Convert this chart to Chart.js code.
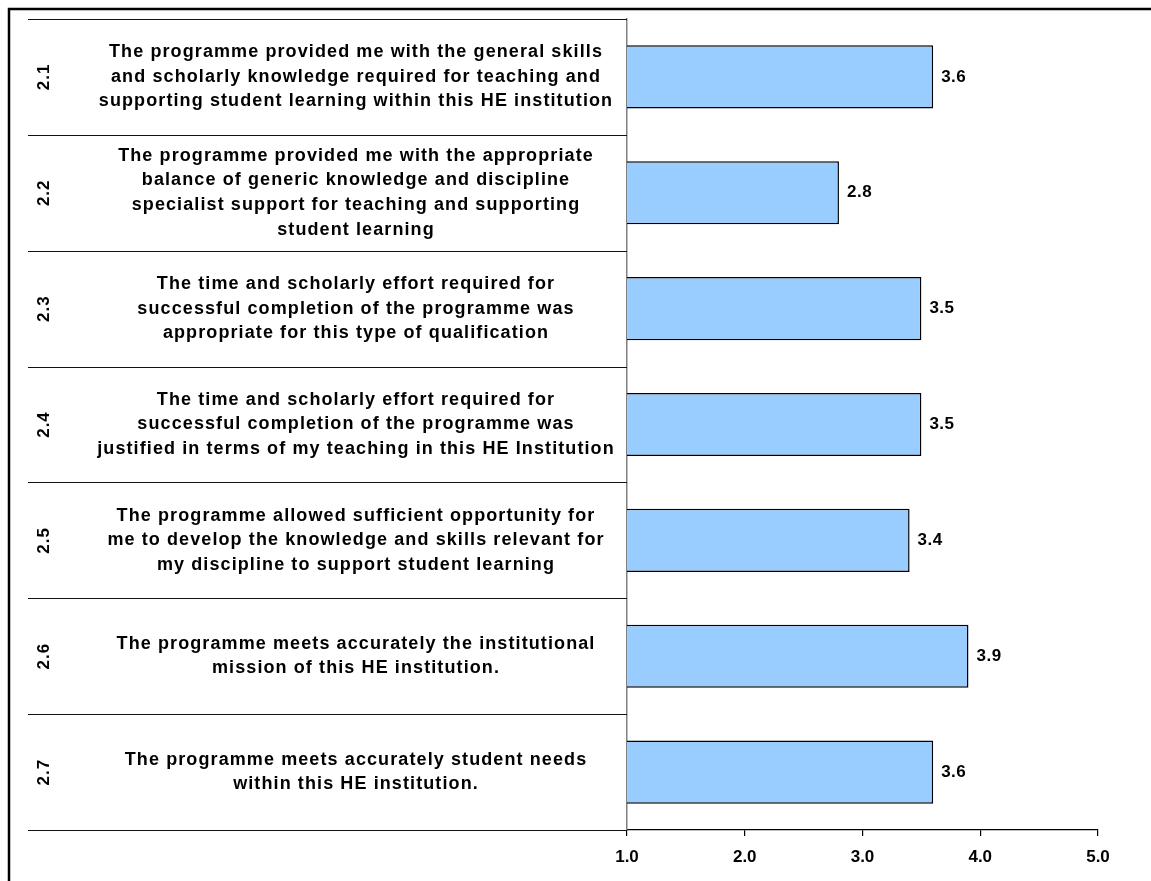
<!DOCTYPE html>
<html>
<head>
<meta charset="utf-8">
<script src="https://cdn.jsdelivr.net/npm/chart.js@4/dist/chart.umd.min.js"></script>
<style>
  html, body { margin: 0; padding: 0; background: #fff; }
  #wrap { width: 1151px; height: 881px; position: relative; }
</style>
</head>
<body>
<div id="wrap"><canvas id="scores"></canvas></div>
<script>
const codes = ["2.1", "2.2", "2.3", "2.4", "2.5", "2.6", "2.7"];
const statements = [
  ["The programme provided me with the general skills",
   "and scholarly knowledge required for teaching and",
   "supporting student learning within this HE institution"],
  ["The programme provided me with the appropriate",
   "balance of generic knowledge and discipline",
   "specialist support for teaching and supporting",
   "student learning"],
  ["The time and scholarly effort required for",
   "successful completion of the programme was",
   "appropriate for this type of qualification"],
  ["The time and scholarly effort required for",
   "successful completion of the programme was",
   "justified in terms of my teaching in this HE Institution"],
  ["The programme allowed sufficient opportunity for",
   "me to develop the knowledge and skills relevant for",
   "my discipline to support student learning"],
  ["The programme meets accurately the institutional",
   "mission of this HE institution."],
  ["The programme meets accurately student needs",
   "within this HE institution."]
];
const scores = [3.6, 2.8, 3.5, 3.5, 3.4, 3.9, 3.6];
const tickLabels = ["1.0", "2.0", "3.0", "4.0", "5.0"];

const FAMILY = "'Liberation Sans', Arial, sans-serif";

// table lines, item numbers, statements and value labels
const tablePlugin = {
  id: "table",
  afterDraw(chart) {
    const ctx = chart.ctx;
    const area = chart.chartArea;
    const y = chart.scales.y;
    const step = y.getPixelForValue(1) - y.getPixelForValue(0);
    const tableLeft = 28;
    ctx.save();

    // outer frame (left and top edges)
    ctx.strokeStyle = "#000";
    ctx.lineWidth = 2.5;
    ctx.beginPath();
    ctx.moveTo(9, 1000);
    ctx.lineTo(9, 9);
    ctx.lineTo(1151, 9);
    ctx.stroke();

    // row separators
    ctx.lineWidth = 1.2;
    ctx.strokeStyle = "#111";
    for (let i = 0; i <= codes.length; i++) {
      const yy = Math.round(y.getPixelForValue(i) - step / 2) + 0.5;
      ctx.beginPath();
      ctx.moveTo(tableLeft, yy);
      ctx.lineTo(area.left, yy);
      ctx.stroke();
    }

    ctx.fillStyle = "#000";
    codes.forEach((code, i) => {
      const cy = y.getPixelForValue(i);
      // rotated item number
      ctx.save();
      ctx.font = "bold 17px " + FAMILY;
      ctx.translate(44, cy);
      ctx.rotate(-Math.PI / 2);
      ctx.textAlign = "center";
      ctx.textBaseline = "middle";
      ctx.letterSpacing = "1px";
      ctx.fillText(code, 0, 0);
      ctx.restore();

      // statement text
      const lines = statements[i];
      const lh = 24.6;
      ctx.save();
      ctx.font = "bold 18px " + FAMILY;
      ctx.textAlign = "center";
      ctx.textBaseline = "middle";
      ctx.letterSpacing = "1.1px";
      lines.forEach((ln, k) => {
        ctx.fillText(ln, 356, cy + (k - (lines.length - 1) / 2) * lh);
      });
      ctx.restore();
    });

    // value labels at the bar ends
    const meta = chart.getDatasetMeta(0);
    ctx.font = "bold 17px " + FAMILY;
    ctx.textAlign = "left";
    ctx.textBaseline = "middle";
    ctx.letterSpacing = "0.5px";
    meta.data.forEach((bar, i) => {
      ctx.fillText(scores[i].toFixed(1), bar.x + 8, bar.y);
    });
    ctx.restore();
  }
};

new Chart(document.getElementById("scores"), {
  type: "bar",
  data: {
    labels: codes,
    datasets: [{
      data: scores,
      backgroundColor: "#99ccff",
      borderColor: "#000",
      borderWidth: 1.5,
      borderSkipped: false,
      barPercentage: 0.545,
      categoryPercentage: 1
    }]
  },
  options: {
    indexAxis: "y",
    responsive: true,
    maintainAspectRatio: false,
    animation: false,
    layout: { padding: { left: 27, top: 19, right: 53, bottom: 0 } },
    plugins: { legend: { display: false }, tooltip: { enabled: false } },
    scales: {
      x: {
        min: 1,
        max: 5,
        ticks: {
          stepSize: 1,
          color: "#000",
          font: { family: FAMILY, size: 17, weight: "bold" },
          padding: 11,
          callback: (v, i) => tickLabels[i]
        },
        grid: { drawOnChartArea: false, tickLength: 6, color: "#000", lineWidth: 1.2 },
        border: { color: "#000", width: 1.2 },
        afterFit: s => { s.height = 51; }
      },
      y: {
        ticks: { display: false },
        grid: { display: false },
        border: { color: "#808080", width: 1.5 },
        afterFit: s => { s.width = 600; }
      }
    }
  },
  plugins: [tablePlugin]
});
</script>
</body>
</html>
